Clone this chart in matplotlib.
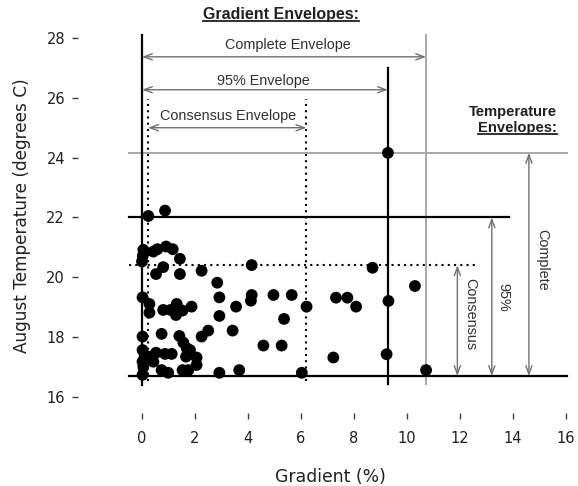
import matplotlib
matplotlib.use("Agg")
import matplotlib.pyplot as plt
from matplotlib.lines import Line2D

W, H = 578, 486

# gradient (%) and August temperature (degrees C) of the sites
gradient = [
    0.24, 0.87, 0.05, 0.03, 0.00, 0.43, 0.58, 0.91, 1.16, 1.43,
    0.80, 0.53, 1.43, 2.25, 4.14, 2.84, 2.92, 4.14, 4.11, 4.96,
    5.65, 6.21, 3.55, 2.92, 5.36, 0.02, 0.28, 0.28, 0.80, 1.08,
    1.31, 1.33, 1.53, 1.87, 1.28, 0.74, 1.41, 2.25, 2.50, 3.42,
    4.58, 5.27, 0.02, 0.02, 1.56, 1.69, 1.81, 0.53, 0.87, 1.12,
    0.30, 1.66, 2.06, 0.02, 0.43, 2.06, 0.74, 0.99, 1.53, 1.75,
    2.92, 3.67, 6.03, 0.02, 8.70, 10.30, 7.32, 7.75, 8.08, 9.30,
    7.22, 9.23, 10.72, 9.28, 0.10, 0.05,
]
temperature = [
    22.05, 22.23, 20.92, 20.72, 20.53, 20.86, 20.94, 21.03, 20.94, 20.62,
    20.34, 20.11, 20.11, 20.22, 20.41, 19.82, 19.33, 19.41, 19.22, 19.41,
    19.41, 19.02, 19.02, 18.71, 18.61, 19.33, 19.11, 18.82, 18.91, 18.91,
    19.11, 18.82, 18.89, 19.02, 18.74, 18.11, 18.04, 18.02, 18.22, 18.22,
    17.72, 17.72, 18.02, 17.57, 17.82, 17.63, 17.57, 17.48, 17.44, 17.44,
    17.35, 17.35, 17.32, 17.18, 17.18, 17.07, 16.90, 16.81, 16.90, 16.90,
    16.81, 16.90, 16.81, 16.74, 20.32, 19.71, 19.32, 19.32, 19.02, 19.21,
    17.32, 17.43, 16.90, 24.16, 17.35, 17.00,
]

# envelope limits
grad_min = 0.0
grad_cons = [0.23, 6.2]
grad_95 = 9.28
grad_max = 10.72
temp_min = 16.7
temp_cons = 20.4
temp_95 = 22.0
temp_max = 24.16

x_ticks = [0, 2, 4, 6, 8, 10, 12, 14, 16]
y_ticks = [16, 18, 20, 22, 24, 26, 28]

fig = plt.figure(figsize=(W / 100, H / 100), dpi=100)
ax = fig.add_axes([120.8 / W, 86 / H, 455.8 / W, 371 / H])
ax.set_xlim(-0.8, 16.4)
ax.set_ylim(15.9, 28.3)

black = dict(color="black", lw=1.6, zorder=2)
gray = dict(color="#a8a8a8", lw=1.4, zorder=1)
dots = dict(color="black", lw=1.5, ls=(0, (1, 2)), zorder=2)

# temperature envelope lines
ax.plot([-0.5, 16.05], [temp_max, temp_max], **gray)
ax.plot([-0.5, 13.85], [temp_95, temp_95], **black)
ax.plot([-0.5, 12.7], [temp_cons, temp_cons], **dots)
ax.plot([-0.5, 16.05], [temp_min, temp_min], **black)

# gradient envelope lines
ax.plot([grad_min, grad_min], [16.4, 28.1], **black)
ax.plot([grad_95, grad_95], [16.45, 27.0], **black)
ax.plot([grad_max, grad_max], [16.45, 28.1], **gray)
ax.plot([grad_cons[0], grad_cons[0]], [16.55, 25.95], **dots)
ax.plot([grad_cons[1], grad_cons[1]], [16.55, 25.95], **dots)

ax.scatter(gradient, temperature, s=72, color="black", edgecolors="none", zorder=3)

arrow = dict(arrowstyle="<->,head_length=0.6,head_width=0.22", color="#707070", lw=1.0,
             shrinkA=0, shrinkB=0)
afont = dict(family="Liberation Sans", size=10.4, color="#303030")

ax.annotate("", xy=(grad_min, 27.37), xytext=(grad_max, 27.37), arrowprops=arrow)
ax.annotate("", xy=(grad_min, 26.27), xytext=(grad_95, 26.27), arrowprops=arrow)
ax.annotate("", xy=(grad_cons[0], 25.0), xytext=(grad_cons[1], 25.0), arrowprops=arrow)
ax.text(5.5, 27.77, "Complete Envelope", ha="center", va="center", **afont)
ax.text(4.57, 26.57, "95% Envelope", ha="center", va="center", **afont)
ax.text(3.25, 25.4, "Consensus Envelope", ha="center", va="center", **afont)

ax.annotate("", xy=(11.9, temp_cons), xytext=(11.9, temp_min), arrowprops=arrow)
ax.annotate("", xy=(13.2, temp_95), xytext=(13.2, temp_min), arrowprops=arrow)
ax.annotate("", xy=(14.6, temp_max), xytext=(14.6, temp_min), arrowprops=arrow)
ax.text(12.4, 18.78, "Consensus", rotation=270, ha="center", va="center", **afont)
ax.text(13.62, 19.34, "95%", rotation=270, ha="center", va="center", **afont)
ax.text(15.1, 20.6, "Complete", rotation=270, ha="center", va="center", **afont)

# R style axes: no box, detached ticks
for s in ["top", "right"]:
    ax.spines[s].set_visible(False)
ax.spines["left"].set_position(("outward", 30.8))
ax.spines["bottom"].set_position(("outward", 9.4))
ax.spines["left"].set_visible(False)
ax.spines["bottom"].set_visible(False)
ax.set_xticks(x_ticks)
ax.set_yticks(y_ticks)
ax.tick_params(axis="y", direction="out", length=4.3, width=1, pad=5,
               labelsize=10.5, color="#404040", labelcolor="#202020")
ax.tick_params(axis="x", direction="out", length=4.3, width=1, pad=8.5,
               labelsize=10.5, color="#404040", labelcolor="#202020")

fig.text(330 / W, 1 - 477 / H, "Gradient (%)", ha="center", va="center",
         fontsize=12.4, color="#202020")
fig.text(22 / W, 1 - 216 / H, "August Temperature (degrees C)", ha="center",
         va="center", rotation=90, fontsize=12.2, color="#202020")

tfont = dict(family="Liberation Sans", size=11.5, weight="bold", color="#202020")
t1 = fig.text(281 / W, 1 - 15 / H, "Gradient Envelopes:", ha="center", va="center", **tfont)
tfont["size"] = 10.6
fig.text(557 / W, 1 - 112 / H, "Temperature", ha="right", va="center", **tfont)
t2 = fig.text(557 / W, 1 - 128 / H, "Envelopes:", ha="right", va="center", **tfont)


def underline(txt):
    r = fig.canvas.get_renderer()
    bb = txt.get_window_extent(renderer=r)
    inv = fig.transFigure.inverted()
    (x0, y0), (x1, _) = inv.transform([(bb.x0, bb.y0 + 1), (bb.x1, bb.y0)])
    fig.add_artist(Line2D([x0, x1], [y0, y0], color="#202020", lw=1.3))


fig.canvas.draw()
underline(t1)
underline(t2)

fig.savefig("out.png", dpi=100)
